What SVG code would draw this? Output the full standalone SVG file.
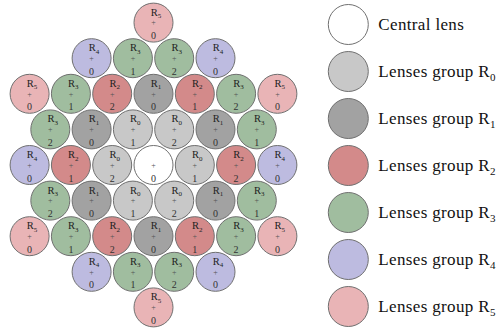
<svg xmlns="http://www.w3.org/2000/svg" width="502" height="331" viewBox="0 0 502 331">
  <style>
    .lens circle { stroke: #707070; stroke-width: 1; }
    .c  circle { fill: #ffffff; }
    .g0 circle { fill: #c8c8c8; }
    .g1 circle { fill: #a2a2a2; }
    .g2 circle { fill: #d38a8a; }
    .g3 circle { fill: #a0bd9f; }
    .g4 circle { fill: #bdbbe0; }
    .g5 circle { fill: #e9b4b6; }
    text { font-family: "Liberation Serif", "Times New Roman", serif; fill: #222; }
    .lab { font-size: 10.5px; }
    .sub { font-size: 7px; }
    .pl { font-size: 8px; text-anchor: middle; fill: #555; }
    .num { font-size: 10px; text-anchor: middle; fill: #333; }
    .leg { font-size: 17px; fill: #111; letter-spacing: 0.35px; }
    .lsub { font-size: 11px; }
  </style>

  <!-- lens array: hexagonal packing, pitch 41.3 x 35.6 -->
  <g id="lenses">
    <!-- row 0 -->
    <g id="L0-0" class="lens g5" transform="translate(153.5,22.6)"><circle r="19.5"/><text class="lab" x="-2.8" y="-7">R<tspan class="sub" dy="2.5">5</tspan></text><text class="pl" y="2.8">+</text><text class="num" y="16.5">0</text></g>

    <!-- row 1 -->
    <g id="L1-0" class="lens g4" transform="translate(91.6,58.2)"><circle r="19.5"/><text class="lab" x="-2.8" y="-7">R<tspan class="sub" dy="2.5">4</tspan></text><text class="pl" y="2.8">+</text><text class="num" y="16.5">0</text></g>
    <g id="L1-1" class="lens g3" transform="translate(132.9,58.2)"><circle r="19.5"/><text class="lab" x="-2.8" y="-7">R<tspan class="sub" dy="2.5">3</tspan></text><text class="pl" y="2.8">+</text><text class="num" y="16.5">1</text></g>
    <g id="L1-2" class="lens g3" transform="translate(174.2,58.2)"><circle r="19.5"/><text class="lab" x="-2.8" y="-7">R<tspan class="sub" dy="2.5">3</tspan></text><text class="pl" y="2.8">+</text><text class="num" y="16.5">2</text></g>
    <g id="L1-3" class="lens g4" transform="translate(215.5,58.2)"><circle r="19.5"/><text class="lab" x="-2.8" y="-7">R<tspan class="sub" dy="2.5">4</tspan></text><text class="pl" y="2.8">+</text><text class="num" y="16.5">0</text></g>

    <!-- row 2 -->
    <g id="L2-0" class="lens g5" transform="translate(29.6,93.8)"><circle r="19.5"/><text class="lab" x="-2.8" y="-7">R<tspan class="sub" dy="2.5">5</tspan></text><text class="pl" y="2.8">+</text><text class="num" y="16.5">0</text></g>
    <g id="L2-1" class="lens g3" transform="translate(70.9,93.8)"><circle r="19.5"/><text class="lab" x="-2.8" y="-7">R<tspan class="sub" dy="2.5">3</tspan></text><text class="pl" y="2.8">+</text><text class="num" y="16.5">1</text></g>
    <g id="L2-2" class="lens g2" transform="translate(112.2,93.8)"><circle r="19.5"/><text class="lab" x="-2.8" y="-7">R<tspan class="sub" dy="2.5">2</tspan></text><text class="pl" y="2.8">+</text><text class="num" y="16.5">2</text></g>
    <g id="L2-3" class="lens g1" transform="translate(153.5,93.8)"><circle r="19.5"/><text class="lab" x="-2.8" y="-7">R<tspan class="sub" dy="2.5">1</tspan></text><text class="pl" y="2.8">+</text><text class="num" y="16.5">0</text></g>
    <g id="L2-4" class="lens g2" transform="translate(194.8,93.8)"><circle r="19.5"/><text class="lab" x="-2.8" y="-7">R<tspan class="sub" dy="2.5">2</tspan></text><text class="pl" y="2.8">+</text><text class="num" y="16.5">1</text></g>
    <g id="L2-5" class="lens g3" transform="translate(236.1,93.8)"><circle r="19.5"/><text class="lab" x="-2.8" y="-7">R<tspan class="sub" dy="2.5">3</tspan></text><text class="pl" y="2.8">+</text><text class="num" y="16.5">2</text></g>
    <g id="L2-6" class="lens g5" transform="translate(277.4,93.8)"><circle r="19.5"/><text class="lab" x="-2.8" y="-7">R<tspan class="sub" dy="2.5">5</tspan></text><text class="pl" y="2.8">+</text><text class="num" y="16.5">0</text></g>

    <!-- row 3 -->
    <g id="L3-0" class="lens g3" transform="translate(50.3,129.4)"><circle r="19.5"/><text class="lab" x="-2.8" y="-7">R<tspan class="sub" dy="2.5">3</tspan></text><text class="pl" y="2.8">+</text><text class="num" y="16.5">2</text></g>
    <g id="L3-1" class="lens g1" transform="translate(91.6,129.4)"><circle r="19.5"/><text class="lab" x="-2.8" y="-7">R<tspan class="sub" dy="2.5">1</tspan></text><text class="pl" y="2.8">+</text><text class="num" y="16.5">0</text></g>
    <g id="L3-2" class="lens g0" transform="translate(132.9,129.4)"><circle r="19.5"/><text class="lab" x="-2.8" y="-7">R<tspan class="sub" dy="2.5">0</tspan></text><text class="pl" y="2.8">+</text><text class="num" y="16.5">1</text></g>
    <g id="L3-3" class="lens g0" transform="translate(174.2,129.4)"><circle r="19.5"/><text class="lab" x="-2.8" y="-7">R<tspan class="sub" dy="2.5">0</tspan></text><text class="pl" y="2.8">+</text><text class="num" y="16.5">2</text></g>
    <g id="L3-4" class="lens g1" transform="translate(215.5,129.4)"><circle r="19.5"/><text class="lab" x="-2.8" y="-7">R<tspan class="sub" dy="2.5">1</tspan></text><text class="pl" y="2.8">+</text><text class="num" y="16.5">0</text></g>
    <g id="L3-5" class="lens g3" transform="translate(256.8,129.4)"><circle r="19.5"/><text class="lab" x="-2.8" y="-7">R<tspan class="sub" dy="2.5">3</tspan></text><text class="pl" y="2.8">+</text><text class="num" y="16.5">1</text></g>

    <!-- row 4 (contains the central lens) -->
    <g id="L4-0" class="lens g4" transform="translate(29.6,165)"><circle r="19.5"/><text class="lab" x="-2.8" y="-7">R<tspan class="sub" dy="2.5">4</tspan></text><text class="pl" y="2.8">+</text><text class="num" y="16.5">0</text></g>
    <g id="L4-1" class="lens g2" transform="translate(70.9,165)"><circle r="19.5"/><text class="lab" x="-2.8" y="-7">R<tspan class="sub" dy="2.5">2</tspan></text><text class="pl" y="2.8">+</text><text class="num" y="16.5">1</text></g>
    <g id="L4-2" class="lens g0" transform="translate(112.2,165)"><circle r="19.5"/><text class="lab" x="-2.8" y="-7">R<tspan class="sub" dy="2.5">0</tspan></text><text class="pl" y="2.8">+</text><text class="num" y="16.5">2</text></g>
    <g id="L4-3" class="lens c" transform="translate(153.5,165)"><circle r="19.5"/><text class="pl" y="2.8">+</text><text class="num" y="16.5">0</text></g>
    <g id="L4-4" class="lens g0" transform="translate(194.8,165)"><circle r="19.5"/><text class="lab" x="-2.8" y="-7">R<tspan class="sub" dy="2.5">0</tspan></text><text class="pl" y="2.8">+</text><text class="num" y="16.5">1</text></g>
    <g id="L4-5" class="lens g2" transform="translate(236.1,165)"><circle r="19.5"/><text class="lab" x="-2.8" y="-7">R<tspan class="sub" dy="2.5">2</tspan></text><text class="pl" y="2.8">+</text><text class="num" y="16.5">2</text></g>
    <g id="L4-6" class="lens g4" transform="translate(277.4,165)"><circle r="19.5"/><text class="lab" x="-2.8" y="-7">R<tspan class="sub" dy="2.5">4</tspan></text><text class="pl" y="2.8">+</text><text class="num" y="16.5">0</text></g>

    <!-- row 5 -->
    <g id="L5-0" class="lens g3" transform="translate(50.3,200.6)"><circle r="19.5"/><text class="lab" x="-2.8" y="-7">R<tspan class="sub" dy="2.5">3</tspan></text><text class="pl" y="2.8">+</text><text class="num" y="16.5">2</text></g>
    <g id="L5-1" class="lens g1" transform="translate(91.6,200.6)"><circle r="19.5"/><text class="lab" x="-2.8" y="-7">R<tspan class="sub" dy="2.5">1</tspan></text><text class="pl" y="2.8">+</text><text class="num" y="16.5">0</text></g>
    <g id="L5-2" class="lens g0" transform="translate(132.9,200.6)"><circle r="19.5"/><text class="lab" x="-2.8" y="-7">R<tspan class="sub" dy="2.5">0</tspan></text><text class="pl" y="2.8">+</text><text class="num" y="16.5">1</text></g>
    <g id="L5-3" class="lens g0" transform="translate(174.2,200.6)"><circle r="19.5"/><text class="lab" x="-2.8" y="-7">R<tspan class="sub" dy="2.5">0</tspan></text><text class="pl" y="2.8">+</text><text class="num" y="16.5">2</text></g>
    <g id="L5-4" class="lens g1" transform="translate(215.5,200.6)"><circle r="19.5"/><text class="lab" x="-2.8" y="-7">R<tspan class="sub" dy="2.5">1</tspan></text><text class="pl" y="2.8">+</text><text class="num" y="16.5">0</text></g>
    <g id="L5-5" class="lens g3" transform="translate(256.8,200.6)"><circle r="19.5"/><text class="lab" x="-2.8" y="-7">R<tspan class="sub" dy="2.5">3</tspan></text><text class="pl" y="2.8">+</text><text class="num" y="16.5">1</text></g>

    <!-- row 6 -->
    <g id="L6-0" class="lens g5" transform="translate(29.6,236.2)"><circle r="19.5"/><text class="lab" x="-2.8" y="-7">R<tspan class="sub" dy="2.5">5</tspan></text><text class="pl" y="2.8">+</text><text class="num" y="16.5">0</text></g>
    <g id="L6-1" class="lens g3" transform="translate(70.9,236.2)"><circle r="19.5"/><text class="lab" x="-2.8" y="-7">R<tspan class="sub" dy="2.5">3</tspan></text><text class="pl" y="2.8">+</text><text class="num" y="16.5">1</text></g>
    <g id="L6-2" class="lens g2" transform="translate(112.2,236.2)"><circle r="19.5"/><text class="lab" x="-2.8" y="-7">R<tspan class="sub" dy="2.5">2</tspan></text><text class="pl" y="2.8">+</text><text class="num" y="16.5">2</text></g>
    <g id="L6-3" class="lens g1" transform="translate(153.5,236.2)"><circle r="19.5"/><text class="lab" x="-2.8" y="-7">R<tspan class="sub" dy="2.5">1</tspan></text><text class="pl" y="2.8">+</text><text class="num" y="16.5">0</text></g>
    <g id="L6-4" class="lens g2" transform="translate(194.8,236.2)"><circle r="19.5"/><text class="lab" x="-2.8" y="-7">R<tspan class="sub" dy="2.5">2</tspan></text><text class="pl" y="2.8">+</text><text class="num" y="16.5">1</text></g>
    <g id="L6-5" class="lens g3" transform="translate(236.1,236.2)"><circle r="19.5"/><text class="lab" x="-2.8" y="-7">R<tspan class="sub" dy="2.5">3</tspan></text><text class="pl" y="2.8">+</text><text class="num" y="16.5">2</text></g>
    <g id="L6-6" class="lens g5" transform="translate(277.4,236.2)"><circle r="19.5"/><text class="lab" x="-2.8" y="-7">R<tspan class="sub" dy="2.5">5</tspan></text><text class="pl" y="2.8">+</text><text class="num" y="16.5">0</text></g>

    <!-- row 7 -->
    <g id="L7-0" class="lens g4" transform="translate(91.6,271.8)"><circle r="19.5"/><text class="lab" x="-2.8" y="-7">R<tspan class="sub" dy="2.5">4</tspan></text><text class="pl" y="2.8">+</text><text class="num" y="16.5">0</text></g>
    <g id="L7-1" class="lens g3" transform="translate(132.9,271.8)"><circle r="19.5"/><text class="lab" x="-2.8" y="-7">R<tspan class="sub" dy="2.5">3</tspan></text><text class="pl" y="2.8">+</text><text class="num" y="16.5">1</text></g>
    <g id="L7-2" class="lens g3" transform="translate(174.2,271.8)"><circle r="19.5"/><text class="lab" x="-2.8" y="-7">R<tspan class="sub" dy="2.5">3</tspan></text><text class="pl" y="2.8">+</text><text class="num" y="16.5">2</text></g>
    <g id="L7-3" class="lens g4" transform="translate(215.5,271.8)"><circle r="19.5"/><text class="lab" x="-2.8" y="-7">R<tspan class="sub" dy="2.5">4</tspan></text><text class="pl" y="2.8">+</text><text class="num" y="16.5">0</text></g>

    <!-- row 8 -->
    <g id="L8-0" class="lens g5" transform="translate(153.5,307.4)"><circle r="19.5"/><text class="lab" x="-2.8" y="-7">R<tspan class="sub" dy="2.5">5</tspan></text><text class="pl" y="2.8">+</text><text class="num" y="16.5">0</text></g>
  </g>

  <!-- legend -->
  <g id="legend">
    <g id="leg-c" class="lens c" transform="translate(348.3,24.5)"><circle r="20"/><text class="leg" x="30" y="5">Central lens</text></g>
    <g id="leg-0" class="lens g0" transform="translate(348.3,71.5)"><circle r="20"/><text class="leg" x="30" y="5">Lenses group R<tspan class="lsub" dy="4">0</tspan></text></g>
    <g id="leg-1" class="lens g1" transform="translate(348.3,118.5)"><circle r="20"/><text class="leg" x="30" y="5">Lenses group R<tspan class="lsub" dy="4">1</tspan></text></g>
    <g id="leg-2" class="lens g2" transform="translate(348.3,165.5)"><circle r="20"/><text class="leg" x="30" y="5">Lenses group R<tspan class="lsub" dy="4">2</tspan></text></g>
    <g id="leg-3" class="lens g3" transform="translate(348.3,212.5)"><circle r="20"/><text class="leg" x="30" y="5">Lenses group R<tspan class="lsub" dy="4">3</tspan></text></g>
    <g id="leg-4" class="lens g4" transform="translate(348.3,259.5)"><circle r="20"/><text class="leg" x="30" y="5">Lenses group R<tspan class="lsub" dy="4">4</tspan></text></g>
    <g id="leg-5" class="lens g5" transform="translate(348.3,306.5)"><circle r="20"/><text class="leg" x="30" y="5">Lenses group R<tspan class="lsub" dy="4">5</tspan></text></g>
  </g>
</svg>
